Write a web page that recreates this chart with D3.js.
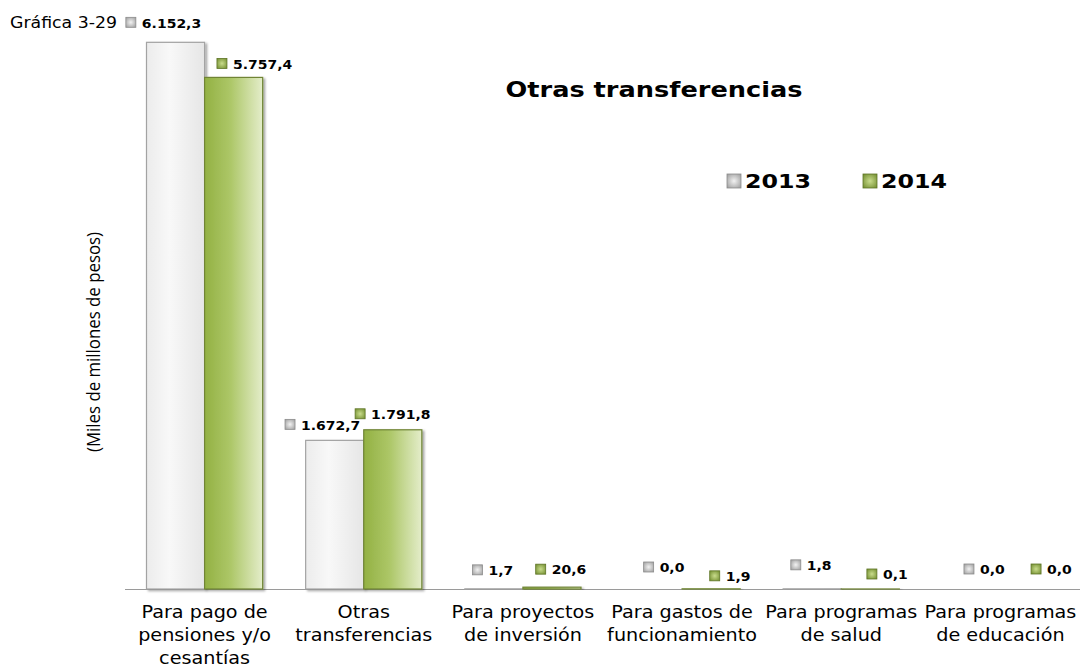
<!DOCTYPE html>
<html>
<head>
<meta charset="utf-8">
<script src="https://cdn.jsdelivr.net/npm/d3@7"></script>
<style>
  html, body { margin: 0; padding: 0; background: #ffffff; }
  svg { display: block; }
</style>
</head>
<body>
<svg id="chart" width="1080" height="667"></svg>
<script>
// Categories and series values (miles de millones de pesos)
const categories = [
  ["Para pago de", "pensiones y/o", "cesantías"],
  ["Otras", "transferencias"],
  ["Para proyectos", "de inversión"],
  ["Para gastos de", "funcionamiento"],
  ["Para programas", "de salud"],
  ["Para programas", "de educación"]
];
const seriesNames = ["2013", "2014"];
const values2013 = [6152.3, 1672.7, 1.7, 0.0, 1.8, 0.0];
const values2014 = [5757.4, 1791.8, 20.6, 1.9, 0.1, 0.0];
const yDomain = [0, 7000];

// Label placement relative to the top-centre of each bar: [dx, dy]
const labelOffsets2013 = [[-12, -20], [-12, -16], [-1, -19], [11, -22], [-1, -24], [13, -20]];
const labelOffsets2014 = [[21, -14], [0, -16], [9, -18], [19, -13], [17, -15], [22, -20]];

// Horizontal widening applied to the chart's text
const textStretch = 1.12;

const fmt = v => {
  const s = v.toFixed(1).split(".");
  const int = s[0].replace(/\B(?=(\d{3})+(?!\d))/g, ".");
  return int + "," + s[1];
};

const svg = d3.select("#chart");
const defs = svg.append("defs");

function hGradient(id, stops) {
  const g = defs.append("linearGradient").attr("id", id)
    .attr("x1", "0%").attr("x2", "100%").attr("y1", "0%").attr("y2", "0%");
  stops.forEach(([o, c]) => g.append("stop").attr("offset", o).attr("stop-color", c));
}
hGradient("g2013", [["0%", "#ececec"], ["40%", "#f8f8f8"], ["100%", "#e6e6e6"]]);
hGradient("g2014", [["0%", "#93b143"], ["45%", "#adc768"], ["100%", "#e4edca"]]);

function keyGradient(id, edge, mid) {
  const g = defs.append("radialGradient").attr("id", id)
    .attr("cx", "50%").attr("cy", "50%").attr("r", "70%");
  g.append("stop").attr("offset", "0%").attr("stop-color", mid);
  g.append("stop").attr("offset", "100%").attr("stop-color", edge);
}
keyGradient("k2013", "#9a9a9a", "#f2f2f2");
keyGradient("k2014", "#6f8b2c", "#c9dc8c");

const shadow = defs.append("filter").attr("id", "shadow")
  .attr("x", "-20%").attr("y", "-20%").attr("width", "140%").attr("height", "140%");
shadow.append("feDropShadow").attr("dx", 2).attr("dy", 1.5)
  .attr("stdDeviation", 1.3).attr("flood-color", "#000").attr("flood-opacity", 0.35);

const fills = { "2013": "url(#g2013)", "2014": "url(#g2014)" };
const strokes = { "2013": "#a3a3a3", "2014": "#6f8434" };
const keyFills = { "2013": "url(#k2013)", "2014": "url(#k2014)" };
const keyStrokes = { "2013": "#8c8c8c", "2014": "#5e7426" };

const x0 = d3.scaleBand()
  .domain(d3.range(categories.length))
  .range([125, 1080])
  .paddingInner(0.27)
  .paddingOuter(0.135);
const x1 = d3.scaleBand().domain(seriesNames).range([0, x0.bandwidth()]).padding(0);
const y = d3.scaleLinear().domain(yDomain).range([589, -33]);

const rows = categories.map((c, i) => ({
  i,
  bars: [
    { s: "2013", v: values2013[i], off: labelOffsets2013[i] },
    { s: "2014", v: values2014[i], off: labelOffsets2014[i] }
  ]
}));

// Baseline axis
svg.append("line")
  .attr("x1", 125).attr("x2", 1080)
  .attr("y1", y(0) + 0.5).attr("y2", y(0) + 0.5)
  .attr("stroke", "#9a9a9a").attr("stroke-width", 1.2);

// Bars
const groups = svg.append("g").selectAll("g").data(rows).join("g")
  .attr("transform", d => `translate(${x0(d.i)},0)`);

groups.selectAll("rect").data(d => d.bars).join("rect")
  .attr("x", d => x1(d.s))
  .attr("y", d => y(d.v))
  .attr("width", x1.bandwidth())
  .attr("height", d => y(0) - y(d.v))
  .attr("fill", d => fills[d.s])
  .attr("stroke", d => strokes[d.s])
  .attr("stroke-width", 1.2)
  .attr("filter", "url(#shadow)");

// Value labels with series key
const labels = svg.append("g").selectAll("g").data(rows.flatMap(r => r.bars.map(b => ({ ...b, i: r.i }))))
  .join("g")
  .attr("transform", d => {
    const cx = x0(d.i) + x1(d.s) + x1.bandwidth() / 2 + d.off[0];
    const cy = y(d.v) + d.off[1];
    return `translate(${cx},${cy})`;
  });

labels.each(function (d) {
  const g = d3.select(this);
  const tg = g.append("g");
  const t = tg.append("text")
    .attr("font-family", "'DejaVu Sans', Verdana, sans-serif")
    .attr("font-weight", "bold")
    .attr("font-size", 12.5)
    .attr("fill", "#000")
    .attr("dominant-baseline", "central")
    .attr("y", 1)
    .text(fmt(d.v));
  const w = t.node().getComputedTextLength() * textStretch;
  const total = 10 + 6 + w;
  g.append("rect")
    .attr("x", -total / 2).attr("y", -5).attr("width", 10).attr("height", 10)
    .attr("fill", keyFills[d.s]).attr("stroke", keyStrokes[d.s]).attr("stroke-width", 0.8);
  tg.attr("transform", `translate(${-total / 2 + 16},0) scale(${textStretch},1)`);
});

// Category labels
const catLabels = svg.append("g").selectAll("text").data(rows).join("text")
  .attr("transform", d => `translate(${x0(d.i) + x0.bandwidth() / 2},618) scale(${textStretch * 0.98},1)`)
  .attr("text-anchor", "middle")
  .attr("font-family", "'DejaVu Sans', Verdana, sans-serif")
  .attr("font-size", 17.5)
  .attr("fill", "#000");
catLabels.selectAll("tspan").data(d => categories[d.i]).join("tspan")
  .attr("x", 0)
  .attr("dy", (d, k) => k === 0 ? 0 : 23)
  .text(d => d);

// Title
svg.append("text")
  .attr("x", 654).attr("y", 97)
  .attr("text-anchor", "middle")
  .attr("font-family", "'DejaVu Sans', sans-serif")
  .attr("font-weight", "bold")
  .attr("font-size", 21.5)
  .attr("textLength", 297)
  .attr("lengthAdjust", "spacingAndGlyphs")
  .attr("fill", "#000")
  .text("Otras transferencias");

// Legend
const legend = svg.append("g");
const legendItems = [{ s: "2013", x: 727 }, { s: "2014", x: 863 }];
legendItems.forEach(it => {
  legend.append("rect")
    .attr("x", it.x).attr("y", 174).attr("width", 14).attr("height", 14)
    .attr("fill", keyFills[it.s]).attr("stroke", keyStrokes[it.s]).attr("stroke-width", 0.8);
  legend.append("text")
    .attr("x", it.x + 18).attr("y", 188)
    .attr("font-family", "'DejaVu Sans', Verdana, sans-serif")
    .attr("font-weight", "bold")
    .attr("font-size", 19.5)
    .attr("textLength", 66)
    .attr("lengthAdjust", "spacingAndGlyphs")
    .attr("fill", "#000")
    .text(it.s);
});

// Figure number
svg.append("text")
  .attr("x", 10).attr("y", 28)
  .attr("font-family", "'DejaVu Sans', sans-serif")
  .attr("font-size", 15)
  .attr("textLength", 107)
  .attr("lengthAdjust", "spacingAndGlyphs")
  .attr("fill", "#000")
  .text("Gráfica 3-29");

// Y axis title
svg.append("text")
  .attr("transform", "translate(100,342) rotate(-90)")
  .attr("text-anchor", "middle")
  .attr("font-family", "'Liberation Sans Narrow', 'Open Sans', sans-serif")
  .attr("font-size", 18)
  .attr("textLength", 220)
  .attr("lengthAdjust", "spacingAndGlyphs")
  .attr("fill", "#000")
  .text("(Miles de millones de pesos)");
</script>
</body>
</html>
